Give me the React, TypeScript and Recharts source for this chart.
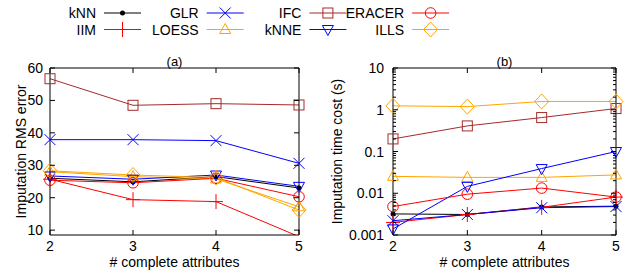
import React from "react";
import { LineChart, Line, XAxis, YAxis, Label } from "recharts";

const attrs = [2, 3, 4, 5];

// (a) imputation RMS error
const rmsKnn = [26.0, 24.9, 26.5, 23.0];
const rmsIim = [25.7, 19.4, 18.8, 8.0];
const rmsGlr = [37.9, 37.9, 37.6, 30.6];
const rmsLoess = [28.0, 26.5, 25.8, 17.2];
const rmsIfc = [56.7, 48.5, 49.0, 48.6];
const rmsKnne = [26.7, 25.7, 27.0, 23.5];
const rmsEracer = [25.4, 24.6, 26.0, 20.3];
const rmsIlls = [28.3, 27.0, 26.2, 16.2];

// (b) imputation time cost (s)
const timeKnn = [0.0032, 0.0031, 0.0047, 0.0049];
const timeIim = [0.002, 0.0031, 0.0046, 0.0081];
const timeGlr = [0.0022, 0.0031, 0.0045, 0.0048];
const timeLoess = [0.0254, 0.024, 0.024, 0.0275];
const timeIfc = [0.2, 0.41, 0.65, 1.07];
const timeKnne = [0.0014, 0.0146, 0.039, 0.1];
const timeEracer = [0.0048, 0.0095, 0.0133, 0.0081];
const timeIlls = [1.24, 1.19, 1.58, 1.58];

const rmsTicks = [10, 20, 30, 40, 50, 60];
const timeTicks = [0.001, 0.01, 0.1, 1, 10];
const timeMinorTicks = [0.001, 0.01, 0.1, 1].flatMap((d) =>
  [2, 3, 4, 5, 6, 7, 8, 9].map((m) => +(d * m).toPrecision(3))
);
const timeAllTicks = [...timeTicks, ...timeMinorTicks].sort((a, b) => a - b);

const series = [
  { name: "kNN", color: "#000000", shape: "dot", rms: rmsKnn, time: timeKnn },
  { name: "IIM", color: "#ff0000", shape: "plus", rms: rmsIim, time: timeIim },
  { name: "GLR", color: "#0000ff", shape: "cross", rms: rmsGlr, time: timeGlr },
  { name: "LOESS", color: "#ffa500", shape: "tri", rms: rmsLoess, time: timeLoess },
  { name: "IFC", color: "#a52a2a", shape: "square", rms: rmsIfc, time: timeIfc },
  { name: "kNNE", color: "#0000ff", shape: "tridown", rms: rmsKnne, time: timeKnne },
  { name: "ERACER", color: "#ff0000", shape: "circle", rms: rmsEracer, time: timeEracer },
  { name: "ILLS", color: "#ffa500", shape: "diamond", rms: rmsIlls, time: timeIlls },
];

const rmsData = attrs.map((x, i) => {
  const row: Record<string, number> = { x };
  series.forEach((s) => (row[s.name] = s.rms[i]));
  return row;
});
const timeData = attrs.map((x, i) => {
  const row: Record<string, number> = { x };
  series.forEach((s) => (row[s.name] = s.time[i]));
  return row;
});

const FONT = "'Liberation Sans', Arial, sans-serif";

function Marker({ cx, cy, shape, color }: { cx: number; cy: number; shape: string; color: string }) {
  const p = { stroke: color, strokeWidth: 1, fill: "none" };
  switch (shape) {
    case "dot":
      return <circle cx={cx} cy={cy} r={2.5} fill={color} />;
    case "plus":
      return <path d={`M${cx - 7},${cy}H${cx + 7}M${cx},${cy - 7.5}V${cy + 7.5}`} {...p} />;
    case "cross":
      return <path d={`M${cx - 5.5},${cy - 5.5}L${cx + 5.5},${cy + 5.5}M${cx - 5.5},${cy + 5.5}L${cx + 5.5},${cy - 5.5}`} {...p} />;
    case "tri":
      return <path d={`M${cx},${cy - 6}L${cx + 5.5},${cy + 4}L${cx - 5.5},${cy + 4}Z`} {...p} />;
    case "tridown":
      return <path d={`M${cx},${cy + 6}L${cx + 5.5},${cy - 4}L${cx - 5.5},${cy - 4}Z`} {...p} />;
    case "square":
      return <rect x={cx - 5} y={cy - 5} width={10} height={10} {...p} />;
    case "circle":
      return <circle cx={cx} cy={cy} r={5.3} {...p} />;
    case "diamond":
      return <path d={`M${cx},${cy - 7.5}L${cx + 7},${cy}L${cx},${cy + 7.5}L${cx - 7},${cy}Z`} {...p} />;
  }
  return null;
}

function renderLines() {
  return series.map((s) => (
    <Line
      key={s.name}
      xAxisId="b"
      yAxisId="l"
      type="linear"
      dataKey={s.name}
      stroke={s.color}
      strokeWidth={1}
      isAnimationActive={false}
      activeDot={false}
      dot={(p: any) => (
        <Marker key={`${s.name}-${p.index}`} cx={p.cx} cy={p.cy} shape={s.shape} color={s.color} />
      )}
    />
  ));
}

// inward tick marks with optional labels (gnuplot style)
function makeTick(side: "left" | "right" | "top" | "bottom", majors: number[] | null, gap: number) {
  return (props: any) => {
    const { x, y, payload } = props;
    const v = payload.value;
    const isMajor = majors ? majors.includes(v) : true;
    const len = isMajor ? 5 : 3;
    let line;
    if (side === "left") line = <line x1={x} x2={x + len} y1={y} y2={y} stroke="#000" />;
    else if (side === "right") line = <line x1={x} x2={x - len} y1={y} y2={y} stroke="#000" />;
    else if (side === "top") line = <line x1={x} x2={x} y1={y} y2={y + len} stroke="#000" />;
    else line = <line x1={x} x2={x} y1={y} y2={y - len} stroke="#000" />;
    let label = null;
    if (isMajor && side === "left")
      label = (
        <text x={x - gap} y={y} textAnchor="end" dominantBaseline="central" fontSize={14} fontFamily={FONT} fill="#000">
          {String(v)}
        </text>
      );
    if (side === "bottom")
      label = (
        <text x={x} y={y + gap} textAnchor="middle" fontSize={14} fontFamily={FONT} fill="#000">
          {String(v)}
        </text>
      );
    return (
      <g>
        {line}
        {label}
      </g>
    );
  };
}

function yTitle(text: string, dx: number) {
  return (props: any) => {
    const vb = props.viewBox;
    const x = vb.x + dx;
    const y = vb.y + vb.height / 2;
    return (
      <text x={x} y={y} transform={`rotate(-90 ${x} ${y})`} textAnchor="middle" dominantBaseline="central" fontSize={14} fontFamily={FONT} fill="#000">
        {text}
      </text>
    );
  };
}

function xTitle(text: string) {
  return (props: any) => {
    const vb = props.viewBox;
    return (
      <text x={vb.x + vb.width / 2} y={vb.y + 32} textAnchor="middle" fontSize={14} fontFamily={FONT} fill="#000">
        {text}
      </text>
    );
  };
}

function topTitle(text: string) {
  return (props: any) => {
    const vb = props.viewBox;
    return (
      <text x={vb.x + vb.width / 2} y={vb.y + vb.height - 2} textAnchor="middle" fontSize={13} fontFamily={FONT} fill="#000">
        {text}
      </text>
    );
  };
}

function Legend() {
  return (
    <svg width={633} height={40} style={{ position: "absolute", left: 0, top: 0 }}>
      {series.map((s, i) => {
        const col = Math.floor(i / 2);
        const row = i % 2;
        const right = 96 + col * 102.7;
        const y = 13 + row * 16.5;
        return (
          <g key={s.name}>
            <text x={right} y={y} textAnchor="end" dominantBaseline="central" fontSize={14} fontFamily={FONT} fill="#000">
              {s.name}
            </text>
            <line x1={right + 8} x2={right + 45} y1={y} y2={y} stroke={s.color} strokeWidth={1} />
            <Marker cx={right + 26.5} cy={y} shape={s.shape} color={s.color} />
          </g>
        );
      })}
    </svg>
  );
}

export default function App() {
  return (
    <div style={{ position: "absolute", left: 0, top: 0, width: 633, height: 276, background: "#fff" }}>
      <Legend />
      <div style={{ position: "absolute", left: 0, top: 0 }}>
        <LineChart width={310} height={276} data={rmsData} margin={{ top: 67, right: 10, bottom: 21, left: 0 }}>
          <XAxis xAxisId="b" dataKey="x" type="number" domain={[2, 5]} ticks={attrs} height={20} stroke="#000" tickLine={false} tickSize={0} tickMargin={0} tick={makeTick("bottom", null, 16)}>
            <Label content={xTitle("# complete attributes")} />
          </XAxis>
          <XAxis xAxisId="t" orientation="top" dataKey="x" type="number" domain={[2, 5]} ticks={attrs} height={1} stroke="#000" tickLine={false} tickSize={0} tickMargin={0} tick={makeTick("top", null, 0)}>
            <Label content={topTitle("(a)")} />
          </XAxis>
          <YAxis yAxisId="l" type="number" domain={[8.5, 60]} allowDataOverflow ticks={rmsTicks} width={50} stroke="#000" tickLine={false} tickSize={0} tickMargin={0} tick={makeTick("left", null, 7)}>
            <Label content={yTitle("Imputation RMS error", 21)} />
          </YAxis>
          <YAxis yAxisId="r" orientation="right" type="number" domain={[8.5, 60]} allowDataOverflow ticks={rmsTicks} width={1} stroke="#000" tickLine={false} tickSize={0} tickMargin={0} tick={makeTick("right", null, 0)} />
          {renderLines()}
        </LineChart>
      </div>
      <div style={{ position: "absolute", left: 310, top: 0 }}>
        <LineChart width={323} height={276} data={timeData} margin={{ top: 67, right: 16, bottom: 21, left: 0 }}>
          <XAxis xAxisId="b" dataKey="x" type="number" domain={[2, 5]} ticks={attrs} height={20} stroke="#000" tickLine={false} tickSize={0} tickMargin={0} tick={makeTick("bottom", null, 16)}>
            <Label content={xTitle("# complete attributes")} />
          </XAxis>
          <XAxis xAxisId="t" orientation="top" dataKey="x" type="number" domain={[2, 5]} ticks={attrs} height={1} stroke="#000" tickLine={false} tickSize={0} tickMargin={0} tick={makeTick("top", null, 0)}>
            <Label content={topTitle("(b)")} />
          </XAxis>
          <YAxis yAxisId="l" type="number" scale="log" domain={[0.001, 10]} allowDataOverflow ticks={timeAllTicks} interval={0} width={83} stroke="#000" tickLine={false} tickSize={0} tickMargin={0} tick={makeTick("left", timeTicks, 9)}>
            <Label content={yTitle("Imputation time cost (s)", 27)} />
          </YAxis>
          <YAxis yAxisId="r" orientation="right" type="number" scale="log" domain={[0.001, 10]} allowDataOverflow ticks={timeAllTicks} interval={0} width={1} stroke="#000" tickLine={false} tickSize={0} tickMargin={0} tick={makeTick("right", timeTicks, 0)} />
          {renderLines()}
        </LineChart>
      </div>
    </div>
  );
}
